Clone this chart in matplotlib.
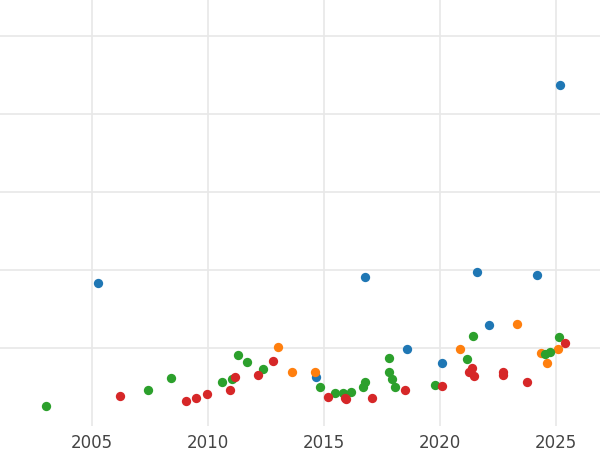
import matplotlib
matplotlib.use("Agg")
import matplotlib.pyplot as plt

blue_x = [2005.25, 2016.76, 2021.59, 2024.18, 2025.17, 2022.11, 2018.57, 2020.08, 2014.65]
blue_y = [1.83, 1.91, 1.97, 1.94, 4.37, 1.29, 0.99, 0.81, 0.63]

orange_x = [2013.01, 2013.62, 2014.61, 2020.86, 2023.31, 2024.35, 2024.61, 2025.08]
orange_y = [1.01, 0.69, 0.69, 0.99, 1.31, 0.94, 0.81, 0.99]

green_x = [2003.01, 2007.41, 2008.40, 2010.60, 2011.03, 2011.29, 2011.68, 2012.37,
           2014.82, 2015.47, 2015.81, 2016.16, 2016.68, 2016.76, 2017.80, 2017.80,
           2017.93, 2018.06, 2019.78, 2021.16, 2021.42, 2024.52, 2024.74, 2025.12]
green_y = [0.26, 0.46, 0.62, 0.56, 0.60, 0.91, 0.82, 0.73,
           0.50, 0.42, 0.42, 0.44, 0.50, 0.56, 0.87, 0.69,
           0.60, 0.50, 0.53, 0.86, 1.15, 0.92, 0.95, 1.14]

red_x = [2006.20, 2009.05, 2009.48, 2009.95, 2010.94, 2011.16, 2012.15, 2012.80,
         2015.17, 2015.90, 2015.94, 2017.06, 2018.49, 2020.08, 2021.25, 2021.37,
         2021.46, 2022.71, 2022.71, 2023.75, 2025.38]
red_y = [0.38, 0.32, 0.36, 0.41, 0.46, 0.63, 0.65, 0.83,
         0.37, 0.36, 0.35, 0.36, 0.46, 0.51, 0.69, 0.74,
         0.64, 0.69, 0.65, 0.56, 1.06]

fig = plt.figure(figsize=(6, 4.5), dpi=100)
ax = fig.add_axes([0, 0.053, 1, 0.947])

for xs, ys, c in [(blue_x, blue_y, "#1f77b4"), (orange_x, orange_y, "#ff7f0e"),
                  (green_x, green_y, "#2ca02c"), (red_x, red_y, "#d62728")]:
    ax.scatter(xs, ys, color=c, s=45, zorder=3, linewidths=0)

ax.set_xlim(2001.03, 2026.9)
ax.set_ylim(0, 426 / 78)
ax.set_xticks([2005, 2010, 2015, 2020, 2025])
ax.set_yticks([1, 2, 3, 4, 5])
ax.set_yticklabels([])
ax.grid(True, color="#e8e8e8", linewidth=1.2)
ax.set_axisbelow(True)
ax.tick_params(length=0, labelsize=12, labelcolor="#444444", pad=6)
for s in ax.spines.values():
    s.set_visible(False)

fig.savefig("out.png", dpi=100)
